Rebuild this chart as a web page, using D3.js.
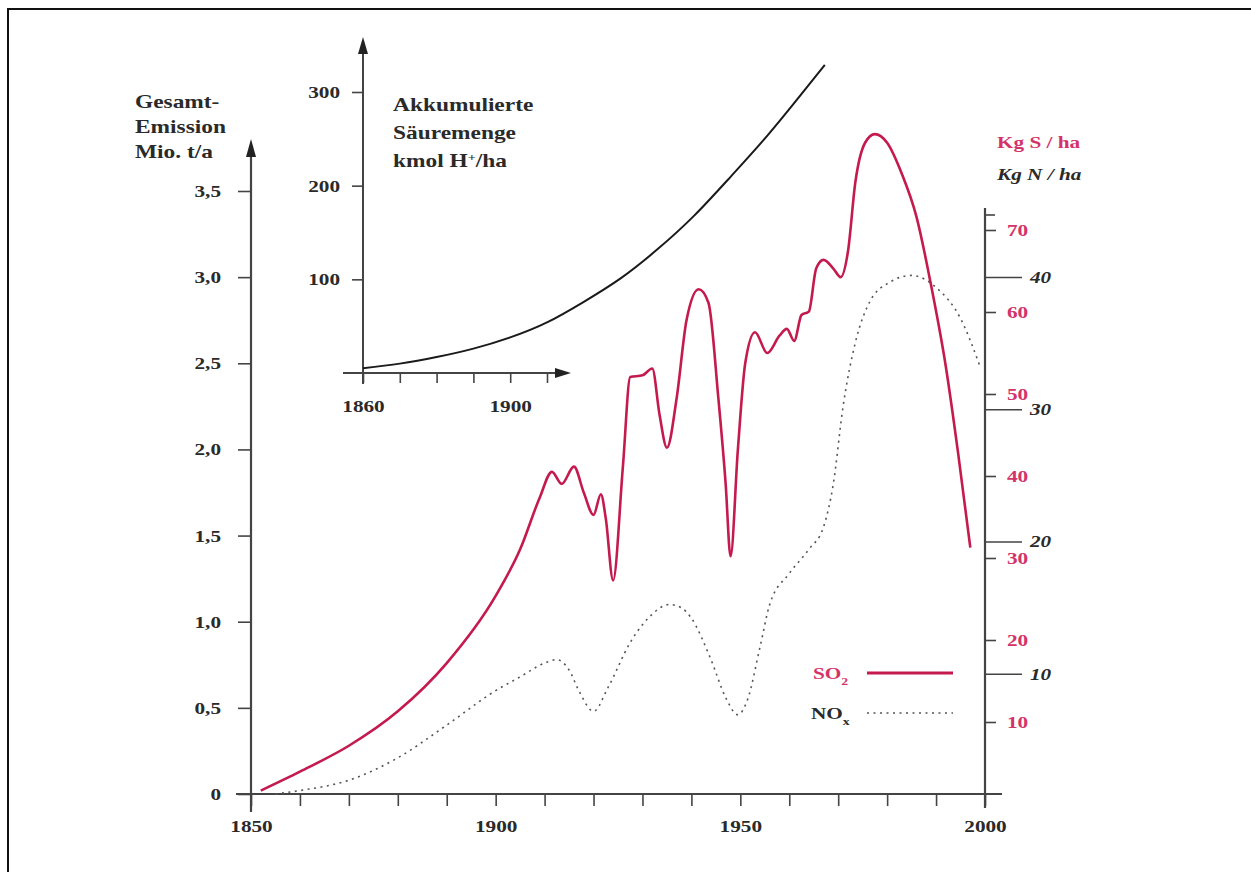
<!DOCTYPE html>
<html><head><meta charset="utf-8">
<script src="https://cdn.jsdelivr.net/npm/d3@7"></script>
<style>
html,body{margin:0;padding:0;background:#fff;}
svg{display:block;}
text{font-family:"Liberation Serif","Times New Roman",serif;font-weight:bold;}
</style></head><body>
<svg id="chart" width="1251" height="872"></svg>
<script>
// SO2 total emission (Mio. t/a)
const so2Years  = [1852,1860,1870,1880,1890,1900,1905,1909,1911.5,1913.5,1916,1918,1920,1921.5,1922.5,1924,1926,1927.5,1930,1932,1933.5,1935,1937,1939,1941.5,1943.5,1945.5,1947,1948,1949.5,1951,1953,1955.5,1958,1959.5,1961,1962.5,1964,1965.5,1967,1969,1970.5,1972,1973.5,1975.5,1977.5,1980,1983,1986,1989,1992,1994.5,1997];
const so2Values = [0.02,0.13,0.28,0.48,0.76,1.15,1.42,1.72,1.87,1.80,1.90,1.75,1.62,1.74,1.60,1.24,1.90,2.42,2.43,2.47,2.20,2.01,2.30,2.75,2.93,2.85,2.30,1.80,1.38,2.00,2.50,2.68,2.56,2.66,2.70,2.63,2.78,2.80,3.05,3.10,3.05,3.00,3.15,3.55,3.78,3.83,3.78,3.60,3.35,2.95,2.48,1.98,1.43];
// NOx total emission (Mio. t/a)
const noxYears  = [1855,1860,1870,1880,1890,1900,1905,1910,1912.5,1915,1917,1920,1923,1927.5,1931.5,1935.5,1938,1940,1944,1947,1949.5,1951.5,1954,1956,1960,1964,1967,1969,1971,1973.5,1976.5,1980.5,1985,1990,1995,1999];
const noxValues = [0.00,0.02,0.08,0.21,0.40,0.60,0.68,0.76,0.78,0.72,0.60,0.48,0.62,0.88,1.03,1.10,1.08,1.02,0.78,0.56,0.46,0.55,0.85,1.10,1.28,1.42,1.55,1.80,2.25,2.62,2.86,2.97,3.01,2.94,2.76,2.48];
// Accumulated acid load (kmol H+/ha)
const acidYears  = [1860,1870,1880,1890,1900,1910,1920,1930,1940,1950,1960,1970,1980,1985.5];
const acidValues = [5,10,17,26,38,54,76,101,132,168,210,254,302,329];

const emissionTicks = [0,0.5,1,1.5,2,2.5,3,3.5];
const yearTicks = d3.range(1850, 2001, 10);
const yearLabels = [1850,1900,1950,2000];
const sulfurTicks = [10,20,30,40,50,60,70];
const nitrogenTicks = [10,20,30,40];
const acidTicks = [100,200,300];
const acidYearTicks = [1860,1870,1880,1890,1900,1910];
const acidYearLabels = [1860,1900];

const RED = "#c41a4e", PINK = "#d4336a", AXIS = "#444", INK = "#2a2a2a";
const SX = 1.25; // horizontal stretch of the lettering

const svg = d3.select("#chart");

// frame
svg.append("path").attr("d","M8,872V9H1251").attr("fill","none").attr("stroke","#111").attr("stroke-width",2);

// scales
const x  = d3.scaleLinear().domain([1850,2000]).range([251,985]);
const y  = d3.scaleLinear().domain([0,3.5]).range([794,191]);
const yS = d3.scaleLinear().domain([0,70]).range([804,230]);
const yN = d3.scaleLinear().domain([0,40]).range([806,277]);
const xi = d3.scaleLinear().domain([1860,1910]).range([363,547]);
const yi = d3.scaleLinear().domain([0,300]).range([373,92]);

function label(g, txt, px, py, opts={}) {
  const t = g.append("text")
    .attr("transform", `translate(${px},${py}) scale(${opts.sx||SX},1)`)
    .attr("font-size", opts.size||17)
    .attr("fill", opts.fill||INK)
    .attr("text-anchor", opts.anchor||"start")
    .text(txt);
  if (opts.italic) t.attr("font-style","italic");
  return t;
}
function styleAxis(g, color, textFill, size, italic) {
  g.select(".domain").remove();
  g.selectAll(".tick line").attr("stroke", color).attr("stroke-width",1.6);
  g.selectAll(".tick text")
    .attr("fill", textFill).attr("font-size", size)
    .attr("font-family",'"Liberation Serif","Times New Roman",serif')
    .attr("font-weight","bold")
    .attr("font-style", italic ? "italic" : "normal");
}
function stretch(g) {
  g.selectAll(".tick text").each(function(){
    const t = d3.select(this);
    const xv = +t.attr("x") || 0;
    t.attr("x", xv / SX).attr("transform", `scale(${SX},1)`);
  });
}
const fmt = v => v === 0 ? "0" : d3.format(".1f")(v).replace(".", ",");

// ---- main left axis ----
const gl = svg.append("g").attr("transform","translate(251,0)")
  .call(d3.axisLeft(y).tickValues(emissionTicks).tickSize(13).tickPadding(17).tickSizeOuter(0).tickFormat(fmt));
styleAxis(gl, AXIS, INK, 17); stretch(gl);
svg.append("line").attr("x1",251).attr("x2",251).attr("y1",812).attr("y2",152).attr("stroke",AXIS).attr("stroke-width",2.2);
svg.append("path").attr("d","M251,139L256,157L246,157Z").attr("fill","#222");

// ---- bottom axis ----
const gb = svg.append("g").attr("transform",`translate(0,${y(0)})`)
  .call(d3.axisBottom(x).tickValues(yearTicks).tickSize(12).tickPadding(14).tickSizeOuter(0)
    .tickFormat(d => yearLabels.includes(d) ? d : ""));
styleAxis(gb, AXIS, INK, 17); stretch(gb);
svg.append("line").attr("x1",236).attr("x2",1002).attr("y1",y(0)).attr("y2",y(0)).attr("stroke",AXIS).attr("stroke-width",2.2);

// ---- right axes ----
svg.append("line").attr("x1",985).attr("x2",985).attr("y1",208).attr("y2",808).attr("stroke",AXIS).attr("stroke-width",2.2);
svg.append("line").attr("x1",985).attr("x2",995).attr("y1",215).attr("y2",215).attr("stroke",AXIS).attr("stroke-width",1.6);
const gs = svg.append("g").attr("transform","translate(985,0)")
  .call(d3.axisRight(yS).tickValues(sulfurTicks).tickSize(11).tickPadding(11).tickSizeOuter(0));
styleAxis(gs, AXIS, PINK, 17); stretch(gs);
const gn = svg.append("g").attr("transform","translate(985,0)")
  .call(d3.axisRight(yN).tickValues(nitrogenTicks).tickSize(37).tickPadding(8).tickSizeOuter(0));
styleAxis(gn, AXIS, INK, 17, true); stretch(gn);

// axis titles
label(svg, "Gesamt-", 135, 108, {size:18, sx:1.3});
label(svg, "Emission", 135, 133, {size:18, sx:1.3});
label(svg, "Mio. t/a", 135, 158, {size:18, sx:1.3});
label(svg, "Kg S / ha", 997, 148, {fill:PINK});
label(svg, "Kg N / ha", 997, 180, {italic:true});

// ---- emission curves ----
const so2 = so2Years.map((yr,i)=>[yr, so2Values[i]]);
const nox = noxYears.map((yr,i)=>[yr, noxValues[i]]);
const line = d3.line().x(d=>x(d[0])).y(d=>y(d[1])).curve(d3.curveMonotoneX);
svg.append("path").datum(nox).attr("d",line).attr("fill","none")
  .attr("stroke","#555").attr("stroke-width",1.6).attr("stroke-dasharray","2,4.5");
svg.append("path").datum(so2).attr("d",line).attr("fill","none")
  .attr("stroke",RED).attr("stroke-width",2.6).attr("stroke-linejoin","round");

// ---- inset: accumulated acid ----
const gil = svg.append("g").attr("transform","translate(363,0)")
  .call(d3.axisLeft(yi).tickValues(acidTicks).tickSize(11).tickPadding(12).tickSizeOuter(0));
styleAxis(gil, AXIS, INK, 17); stretch(gil);
svg.append("line").attr("x1",363).attr("x2",363).attr("y1",384).attr("y2",50).attr("stroke",AXIS).attr("stroke-width",2);
svg.append("path").attr("d","M363,37L368,54L358,54Z").attr("fill","#222");
const gib = svg.append("g").attr("transform",`translate(0,${yi(0)})`)
  .call(d3.axisBottom(xi).tickValues(acidYearTicks).tickSize(10).tickPadding(17).tickSizeOuter(0)
    .tickFormat(d => acidYearLabels.includes(d) ? d : ""));
styleAxis(gib, AXIS, INK, 17); stretch(gib);
svg.append("line").attr("x1",343).attr("x2",560).attr("y1",yi(0)).attr("y2",yi(0)).attr("stroke",AXIS).attr("stroke-width",2);
svg.append("path").attr("d",`M571,${yi(0)}L555,${yi(0)-5}L555,${yi(0)+5}Z`).attr("fill","#222");

const acid = acidYears.map((yr,i)=>[yr, acidValues[i]]);
svg.append("path").datum(acid)
  .attr("d", d3.line().x(d=>xi(d[0])).y(d=>yi(d[1])).curve(d3.curveNatural))
  .attr("fill","none").attr("stroke","#1a1a1a").attr("stroke-width",2);

label(svg, "Akkumulierte", 393, 111, {size:18, sx:1.3});
label(svg, "Säuremenge", 393, 139, {size:18, sx:1.3});
const hl = label(svg, "kmol H", 393, 167, {size:18, sx:1.3});
hl.append("tspan").attr("baseline-shift","super").attr("font-size",11).text("+");
hl.append("tspan").text("/ha");

// ---- legend ----
const so2L = label(svg, "SO", 813, 679, {fill:PINK});
so2L.append("tspan").attr("baseline-shift","sub").attr("font-size",11).text("2");
svg.append("line").attr("x1",867).attr("x2",953).attr("y1",673).attr("y2",673).attr("stroke",RED).attr("stroke-width",2.8);
const noxL = label(svg, "NO", 811, 719);
noxL.append("tspan").attr("baseline-shift","sub").attr("font-size",11).text("x");
svg.append("line").attr("x1",867).attr("x2",953).attr("y1",713).attr("y2",713).attr("stroke","#555").attr("stroke-width",1.6).attr("stroke-dasharray","2,4.5");
</script>
</body></html>
